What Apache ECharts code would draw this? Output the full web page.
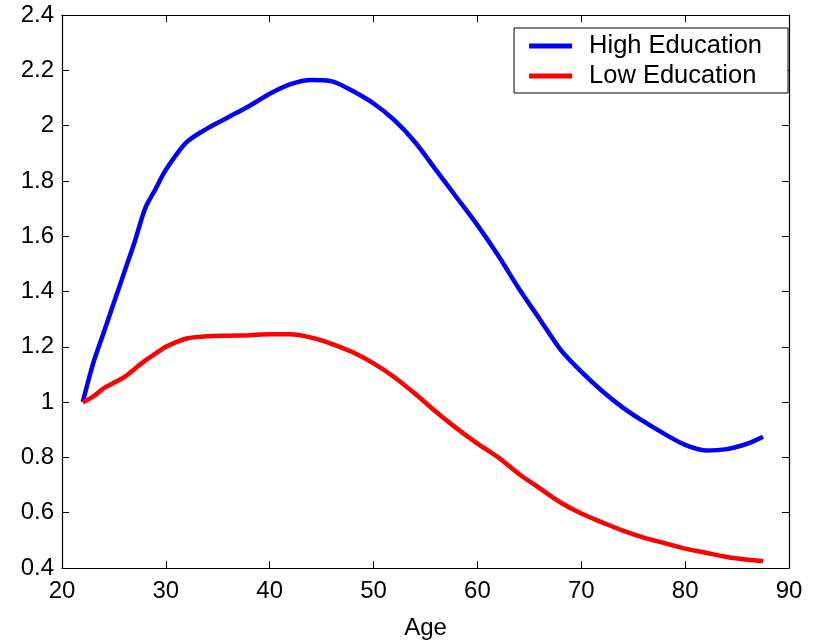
<!DOCTYPE html>
<html>
<head>
<meta charset="utf-8">
<script src="https://cdn.jsdelivr.net/npm/echarts@6/dist/echarts.min.js"></script>
<style>
  html, body { margin: 0; padding: 0; background: #fff; }
  #main { width: 814px; height: 644px; }
</style>
</head>
<body>
<div id="main"></div>
<script>
// ages sampled along the curves
var ages = [22, 23, 24, 25, 26, 27, 28, 29, 30, 32, 34, 36, 38, 40, 42, 44, 46, 48, 50,
            52, 54, 56, 58, 60, 62, 64, 66, 68, 70, 72, 74, 76, 78, 80, 82, 84, 86, 87.5];

var highEdu = [1.0, 1.14, 1.25, 1.36, 1.47, 1.58, 1.70, 1.77, 1.84, 1.94, 1.99, 2.03, 2.07, 2.115,
               2.15, 2.165, 2.16, 2.125, 2.08, 2.02, 1.94, 1.84, 1.74, 1.64, 1.53, 1.41, 1.30,
               1.19, 1.11, 1.04, 0.98, 0.93, 0.885, 0.845, 0.825, 0.83, 0.85, 0.875];

var lowEdu = [1.0, 1.02, 1.05, 1.07, 1.09, 1.12, 1.15, 1.175, 1.20, 1.23, 1.238, 1.24, 1.242,
              1.245, 1.245, 1.233, 1.21, 1.18, 1.14, 1.09, 1.03, 0.965, 0.905, 0.85, 0.80,
              0.74, 0.688, 0.637, 0.597, 0.565, 0.535, 0.51, 0.49, 0.47, 0.455, 0.44, 0.43, 0.425];

var seriesNames = ['High Education', 'Low Education'];

function pairs(vals) {
    var out = [];
    for (var i = 0; i < ages.length; i++) {
        out.push([ages[i], vals[i]]);
    }
    return out;
}

var font = 'Liberation Sans, Arial, sans-serif';

var chart = echarts.init(document.getElementById('main'));

var xBase = {
    type: 'value', min: 20, max: 90, interval: 10,
    axisLine: { show: true, onZero: false, lineStyle: { color: '#000', width: 1.2 } },
    axisTick: { show: true, inside: true, length: 7, lineStyle: { color: '#000' } },
    splitLine: { show: false }
};
var yBase = {
    type: 'value', min: 0.4, max: 2.4, interval: 0.2,
    axisLine: { show: true, onZero: false, lineStyle: { color: '#000', width: 1.2 } },
    axisTick: { show: true, inside: true, length: 7, lineStyle: { color: '#000' } },
    splitLine: { show: false }
};

var option = {
    animation: false,
    backgroundColor: '#fff',
    grid: { left: 62, right: 25, top: 15, bottom: 76, containLabel: false, outerBoundsMode: 'none' },
    legend: {
        data: seriesNames,
        orient: 'vertical',
        right: 26,
        top: 28,
        backgroundColor: '#fff',
        borderColor: '#000',
        borderWidth: 1,
        borderRadius: 0,
        padding: [5, 26, 4, 15],
        itemGap: 4,
        itemWidth: 43,
        itemHeight: 5,
        icon: 'rect',
        textStyle: { fontFamily: font, fontSize: 25.5, color: '#000', padding: [0, 0, 0, 12] }
    },
    xAxis: [
        Object.assign({}, xBase, {
            position: 'bottom',
            name: 'Age',
            nameLocation: 'middle',
            nameGap: 48,
            nameTextStyle: { fontFamily: font, fontSize: 24, color: '#000' },
            axisLabel: {
                formatter: function (v) { return String(v); },
                fontFamily: font, fontSize: 24, color: '#000', margin: 11
            }
        }),
        Object.assign({}, xBase, { position: 'top', axisLabel: { show: false } })
    ],
    yAxis: [
        Object.assign({}, yBase, {
            position: 'left',
            axisLabel: {
                formatter: function (v) { return String(Math.round(v * 10) / 10); },
                fontFamily: font, fontSize: 24, color: '#000', margin: 8
            }
        }),
        Object.assign({}, yBase, { position: 'right', axisLabel: { show: false } })
    ],
    series: [
        {
            name: seriesNames[0],
            type: 'line',
            data: pairs(highEdu),
            smooth: 0.3,
            showSymbol: false,
            color: '#0000ff',
            lineStyle: { color: '#0000ff', width: 4.5 }
        },
        {
            name: seriesNames[1],
            type: 'line',
            data: pairs(lowEdu),
            smooth: 0.3,
            showSymbol: false,
            color: '#ff0000',
            lineStyle: { color: '#ff0000', width: 4.5 }
        }
    ]
};

chart.setOption(option);
</script>
</body>
</html>
